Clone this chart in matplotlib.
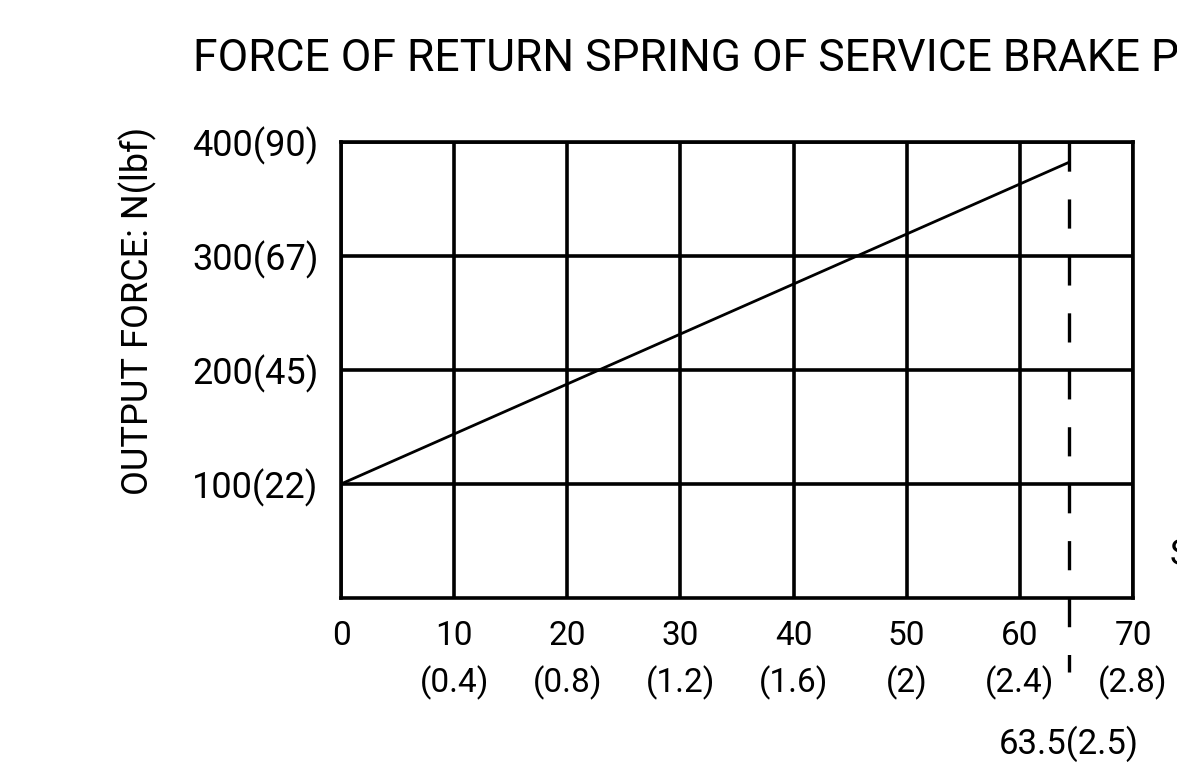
import matplotlib
matplotlib.use("Agg")
import matplotlib.pyplot as plt

# dados
stroke = [0, 64.3]          # mm
force = [100, 382]          # N
stroke_limit = 64.3
limit_label = "63.5(2.5)"

x_ticks = [0, 10, 20, 30, 40, 50, 60, 70]
x_tick_labels = ["0", "10\n(0.4)", "20\n(0.8)", "30\n(1.2)", "40\n(1.6)",
                 "50\n(2)", "60\n(2.4)", "70\n(2.8)"]
y_ticks = [100, 200, 300, 400]
y_tick_labels = ["100(22)", "200(45)", "300(67)", "400(90)"]

plt.rcParams['font.family'] = ['Roboto', 'DejaVu Sans']
plt.rcParams['lines.scale_dashes'] = False

W, H = 1177, 764
fig = plt.figure(figsize=(W / 100, H / 100), dpi=100)
ax = fig.add_axes([341 / W, 1 - 598 / H, (1133 - 341) / W, (598 - 142) / H])

ax.set_xlim(0, 70)
ax.set_ylim(0, 400)

# grade
ax.set_xticks(x_ticks)
ax.set_xticklabels(x_tick_labels, linespacing=1.5)
ax.set_yticks(y_ticks)
ax.set_yticklabels(y_tick_labels)
ax.tick_params(axis='both', length=0)
ax.tick_params(axis='x', pad=16, labelsize=24)
ax.tick_params(axis='y', pad=16, labelsize=26)
ax.grid(True, color='black', linewidth=2.6)
for s in ax.spines.values():
    s.set_linewidth(2.6)

# linha da mola
ax.plot(stroke, force, color='black', linewidth=2.0)

# limite tracejado
ax.plot([stroke_limit, stroke_limit], [400, -65], color='black', linewidth=2.4,
        dashes=(21, 20), clip_on=False, dash_capstyle='butt')
ax.text(stroke_limit, -128, limit_label, ha='center', va='center', fontsize=25)

# titulo e rotulos
fig.text(193 / W, 1 - 71 / H, "FORCE OF RETURN SPRING OF SERVICE BRAKE PEDAL",
         fontsize=32, va='baseline', ha='left')
fig.text(138 / W, 1 - 311 / H, "OUTPUT FORCE: N(lbf)", rotation=90,
         fontsize=26, va='center', ha='center')
fig.text(1170 / W, 1 - 555 / H, "STROKE: mm(in)", fontsize=26, va='center', ha='left')

plt.savefig("out.png", dpi=100)
plt.close()
